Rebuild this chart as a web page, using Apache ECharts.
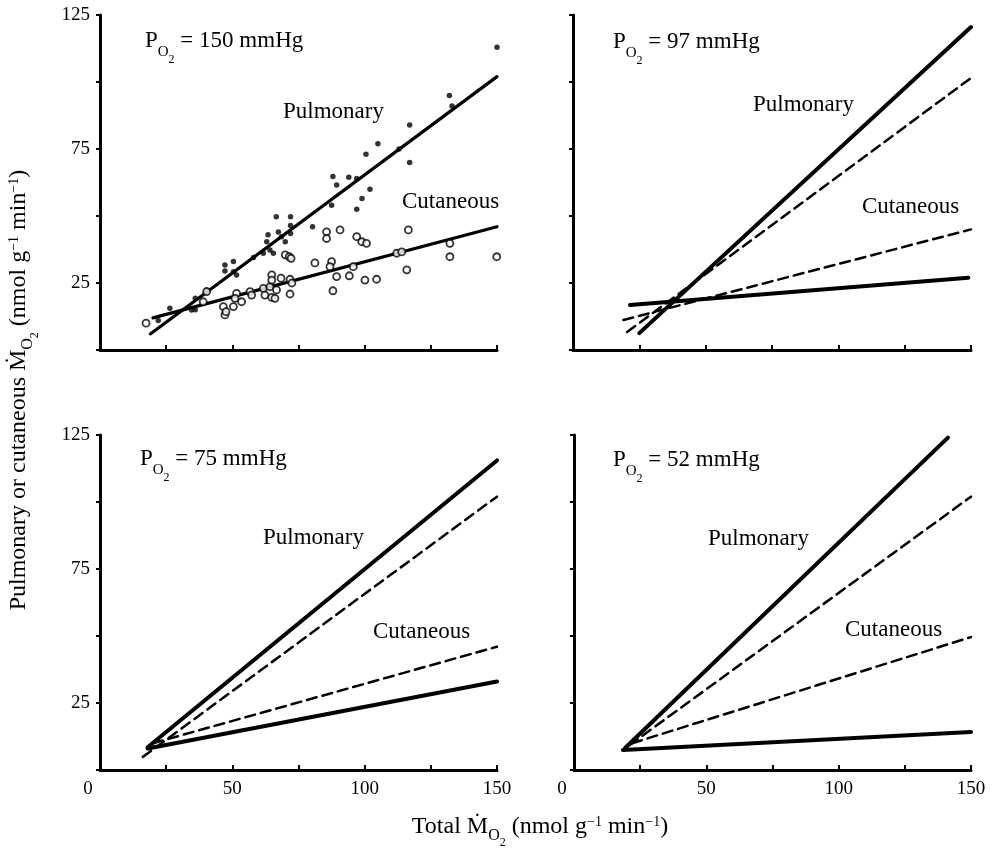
<!DOCTYPE html>
<html>
<head>
<meta charset="utf-8">
<script src="https://cdn.jsdelivr.net/npm/echarts@6/dist/echarts.min.js"></script>
<style>html,body{margin:0;padding:0;background:#fff}#c{width:995px;height:850px}</style>
</head>
<body>
<div id="c"></div>
<script>
// ---- Axis ticks ----
const xTickLabels = [0, 50, 100, 150];
const yTickLabels = [25, 75, 125];
const panelPressures = ['150', '97', '75', '52'];

// ---- Panel A: PO2 = 150 mmHg, measured points ----
const aPulmPtsX = [150, 132, 133, 117, 117, 113, 105, 100.5, 102, 99, 97, 94, 97, 88, 89.4, 87.5, 80.3, 72, 66.6, 72, 67.4, 68.6, 70, 72, 63.5, 63, 64.2, 65.5, 61.7, 58, 50.4, 50.4, 47.2, 47.2, 51.6, 40.3, 36, 36, 34.6, 26.4, 22];
const aPulmPtsY = [113, 95, 91, 84, 70, 75, 77, 73, 60, 56.5, 52.5, 64.5, 64, 64.7, 61.6, 54, 46, 49.7, 49.7, 46.5, 44, 42.3, 40.4, 43.5, 43, 40.4, 37.3, 36.1, 36.1, 34.5, 33, 29.2, 31.7, 29.5, 28, 22.4, 19.3, 15, 14.9, 15.6, 11];
const aCutPtsX = [17.4, 40.3, 39, 46.6, 47.2, 47.6, 50.4, 51.6, 51, 53.5, 56.7, 57.3, 61.7, 62.3, 64.2, 64.9, 66.1, 66.7, 64.9, 64.9, 68.4, 70, 71.5, 72.2, 71.8, 71.8, 72.5, 81.2, 85.6, 85.6, 87.5, 86.9, 88, 89.4, 90.7, 94.2, 95.7, 97, 98.9, 100.7, 100.1, 104.5, 112.1, 114, 116.5, 115.9, 132.2, 132.2, 149.9];
const aCutPtsY = [10, 21.8, 18, 16.2, 13.1, 14.3, 16.2, 21.1, 19.3, 18, 21.8, 20.5, 23, 20.5, 23.6, 19.6, 19.3, 22.4, 28, 26.1, 26.8, 35.5, 34.8, 34.2, 26.4, 20.9, 25, 32.5, 44.1, 41.6, 33, 31.1, 22.1, 27.4, 44.8, 27.7, 31.1, 42.3, 40.4, 39.8, 26.1, 26.4, 36.1, 36.6, 44.8, 29.9, 39.8, 34.8, 34.8];
const aPulmLineX = [19, 150], aPulmLineY = [6, 102];
const aCutLineX = [20, 150], aCutLineY = [12, 46];

// ---- Panel B: PO2 = 97 mmHg ----
const bPulmX = [25, 150], bPulmY = [6.3, 120.5];
const bCutX = [21.5, 149], bCutY = [16.8, 27];
const bRefPulmX = [20.4, 150], bRefPulmY = [6.7, 101.5];
const bRefCutX = [19, 150], bRefCutY = [11.2, 45];

// ---- Panel C: PO2 = 75 mmHg ----
const cPulmX = [18, 150], cPulmY = [8.5, 115.5];
const cCutX = [18, 150], cCutY = [8, 33];
const cRefPulmX = [16.2, 150], cRefPulmY = [4.9, 102];
const cRefCutX = [20, 150], cRefCutY = [10, 46];

// ---- Panel D: PO2 = 52 mmHg ----
const dPulmX = [19.3, 141.3], dPulmY = [8.2, 124];
const dCutX = [18.5, 150], dCutY = [7.5, 14.2];
const dRefPulmX = [21, 150], dRefPulmY = [9.3, 102];
const dRefCutX = [22, 150], dRefCutY = [10, 49.6];

// ---------------------------------------------------------------
const FONT = '"Liberation Serif", "DejaVu Serif", serif';
const zip = (xs, ys) => xs.map((x, i) => [x, ys[i]]);

const grids = [
  {left: 100, top: 15, width: 397, height: 335},
  {left: 573, top: 15, width: 398, height: 335},
  {left: 100, top: 435, width: 397, height: 335},
  {left: 574, top: 435, width: 397, height: 335}
];

function xAxisFor(i) {
  const showLab = i >= 2;
  return {
    gridIndex: i, type: 'value', min: 0, max: 150, interval: 25,
    axisLine: {lineStyle: {color: '#000', width: 3}},
    axisTick: {inside: true, length: 5, lineStyle: {color: '#000', width: 2}},
    splitLine: {show: false},
    axisLabel: {
      show: showLab, margin: 10, color: '#000', fontFamily: FONT, fontSize: 19,
      formatter: v => xTickLabels.indexOf(v) < 0 ? '' : (v === 0 ? '{z|0}' : String(v)),
      rich: {z: {fontFamily: FONT, fontSize: 19, color: '#000', padding: [0, 24, 0, 0]}}
    }
  };
}
function yAxisFor(i) {
  const showLab = (i % 2) === 0;
  return {
    gridIndex: i, type: 'value', min: 0, max: 125, interval: 25,
    axisLine: {lineStyle: {color: '#000', width: 3}},
    axisTick: {inside: false, length: 4, lineStyle: {color: '#000', width: 2}},
    splitLine: {show: false},
    axisLabel: {
      show: showLab, margin: 10, color: '#000', fontFamily: FONT, fontSize: 19,
      formatter: v => yTickLabels.indexOf(v) < 0 ? '' : String(v)
    }
  };
}

function line(i, xs, ys, dashed, w) {
  return {
    type: 'line', xAxisIndex: i, yAxisIndex: i, data: zip(xs, ys),
    symbol: 'none', silent: true,
    lineStyle: {color: '#000', width: w, type: dashed ? [10, 6] : 'solid', cap: 'round'},
    z: 3
  };
}

const series = [
  line(0, aPulmLineX, aPulmLineY, false, 3.2),
  line(0, aCutLineX, aCutLineY, false, 3.2),
  {type: 'scatter', xAxisIndex: 0, yAxisIndex: 0, data: zip(aPulmPtsX, aPulmPtsY),
   symbol: 'circle', symbolSize: 5.5, itemStyle: {color: '#000'}, z: 4},
  {type: 'scatter', xAxisIndex: 0, yAxisIndex: 0, data: zip(aCutPtsX, aCutPtsY),
   symbol: 'circle', symbolSize: 7, itemStyle: {color: '#fff', borderColor: '#000', borderWidth: 1.8}, z: 4},
  line(1, bPulmX, bPulmY, false, 4),
  line(1, bCutX, bCutY, false, 4),
  line(1, bRefPulmX, bRefPulmY, true, 2.5),
  line(1, bRefCutX, bRefCutY, true, 2.5),
  line(2, cPulmX, cPulmY, false, 4),
  line(2, cCutX, cCutY, false, 4),
  line(2, cRefPulmX, cRefPulmY, true, 2.5),
  line(2, cRefCutX, cRefCutY, true, 2.5),
  line(3, dPulmX, dPulmY, false, 4),
  line(3, dCutX, dCutY, false, 4),
  line(3, dRefPulmX, dRefPulmY, true, 2.5),
  line(3, dRefCutX, dRefCutY, true, 2.5)
];

// rich tokens top-aligned; subscripts pushed down with top padding
const richP = {
  p: {fontFamily: FONT, fontSize: 23, lineHeight: 24, verticalAlign: 'top', fill: '#000'},
  o: {fontFamily: FONT, fontSize: 15, lineHeight: 15, verticalAlign: 'top', fill: '#000', padding: [16, 0, 0, 0]},
  t: {fontFamily: FONT, fontSize: 12, lineHeight: 12, verticalAlign: 'top', fill: '#000', padding: [25, 0, 0, 0]}
};
function pLabel(x, yc, val) {
  return {
    type: 'text', x: x, y: yc - 12, silent: true,
    style: {
      text: '{p|P}{o|O}{t|2}{p| = ' + val + ' mmHg}',
      rich: richP, align: 'left', verticalAlign: 'top', fill: '#000'
    }
  };
}
function word(x, yc, s) {
  return {
    type: 'text', x: x, y: yc, silent: true,
    style: {text: s, fontFamily: FONT, fontSize: 23, fill: '#000', align: 'left', verticalAlign: 'middle'}
  };
}
function titleRich(fs) {
  return {
    m: {fontFamily: FONT, fontSize: fs, lineHeight: 26, verticalAlign: 'top', fill: '#000'},
    u: {fontFamily: FONT, fontSize: Math.round(fs * 0.6), lineHeight: 14, verticalAlign: 'top', fill: '#000'},
    o: {fontFamily: FONT, fontSize: Math.round(fs * 0.68), lineHeight: 16, verticalAlign: 'top', fill: '#000', padding: [13, 0, 0, 0]},
    t: {fontFamily: FONT, fontSize: Math.round(fs * 0.5), lineHeight: 12, verticalAlign: 'top', fill: '#000', padding: [22, 0, 0, 0]}
  };
}
const unitRich = '{m| (nmol g}{u|\u22121}{m| min}{u|\u22121}{m|)}';

const graphic = [
  pLabel(145, 41, panelPressures[0]),
  pLabel(613, 42, panelPressures[1]),
  pLabel(140, 459, panelPressures[2]),
  pLabel(613, 460, panelPressures[3]),
  word(283, 112, 'Pulmonary'), word(402, 202, 'Cutaneous'),
  word(753, 105, 'Pulmonary'), word(862, 207, 'Cutaneous'),
  word(263, 538, 'Pulmonary'), word(373, 632, 'Cutaneous'),
  word(708, 539, 'Pulmonary'), word(845, 630, 'Cutaneous'),
  {
    type: 'text', x: 540, y: 830 - 15, silent: true,
    style: {text: '{m|Total \u1E40}{o|O}{t|2}' + unitRich, rich: titleRich(24),
            align: 'center', verticalAlign: 'top', fill: '#000'}
  },
  {
    type: 'text', x: 7, y: 390, rotation: Math.PI / 2, silent: true,
    style: {text: '{m|Pulmonary or cutaneous \u1E40}{o|O}{t|2}' + unitRich, rich: titleRich(24),
            align: 'center', verticalAlign: 'top', fill: '#000'}
  }
];

const chart = echarts.init(document.getElementById('c'), null, {renderer: 'canvas'});
chart.setOption({
  animation: false,
  backgroundColor: '#fff',
  grid: grids,
  xAxis: [0, 1, 2, 3].map(xAxisFor),
  yAxis: [0, 1, 2, 3].map(yAxisFor),
  series: series,
  graphic: graphic
});
</script>
</body>
</html>
